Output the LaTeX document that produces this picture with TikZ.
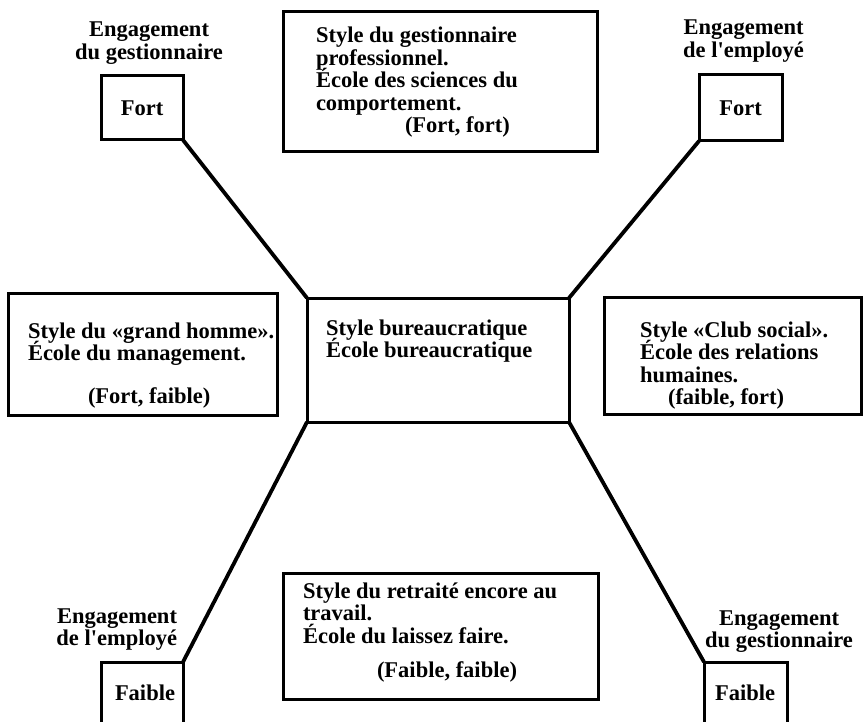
\documentclass[tikz,border=0pt]{standalone}
\usepackage{fontspec}
\setmainfont{Liberation Serif}
% multi-line blocks whose baseline is the baseline of their first line
\newcommand\stackl[1]{\vtop{\baselineskip=22.5pt\lineskiplimit=-50pt\relax\halign{##\hfil\cr#1\crcr}}}
\newcommand\stackc[1]{\vtop{\baselineskip=22.5pt\lineskiplimit=-50pt\relax\halign{\hfil##\hfil\cr#1\crcr}}}
\newcommand\stackr[1]{\vtop{\baselineskip=22.5pt\lineskiplimit=-50pt\relax\halign{\hfil##\cr#1\crcr}}}
\begin{document}
\begin{tikzpicture}[x=1pt,y=-1pt,
  box/.style={draw, line width=3pt, inner sep=0pt, outer sep=0pt,
              font=\bfseries\fontsize{22.5}{22.5}\selectfont},
  link/.style={line width=3.8pt},
  txt/.style={inner sep=0pt, outer sep=0pt,
              font=\bfseries\fontsize{22.5}{22.5}\selectfont},
]
\useasboundingbox (0,0) rectangle (864,722);
\clip (0,0) rectangle (864,722);

% boxes
\node[box, minimum width=82pt,  minimum height=64pt]  (tl) at (142,108)   {Fort};
\node[box, minimum width=314pt, minimum height=140pt] (tc) at (440,82)    {};
\node[box, minimum width=83pt,  minimum height=66pt]  (tr) at (740.5,108) {Fort};
\node[box, minimum width=269pt, minimum height=122pt] (ml) at (142.5,354) {};
\node[box, minimum width=262pt, minimum height=124pt] (mc) at (438,360)   {};
\node[box, minimum width=257pt, minimum height=117pt] (mr) at (732.5,355.5) {};
\node[box, minimum width=315pt, minimum height=126pt] (bc) at (440.5,636) {};
\node[box, minimum width=82pt,  minimum height=78pt]  (bl) at (142,701)   {};
\node[box, minimum width=83pt,  minimum height=78pt]  (br) at (745.5,701) {};

% connectors to the central box
\draw[link] (tl.south east) -- (mc.north west);
\draw[link] (tr.south west) -- (mc.north east);
\draw[link] (bl.north east) -- (mc.south west);
\draw[link] (br.north west) -- (mc.south east);

% axis labels
\node[txt, anchor=base] (tlLab) at (149,37) {\stackc{Engagement\cr du gestionnaire}};
\node[txt, anchor=base] (trLab) at (743.5,35) {\stackc{Engagement\cr de l\textquotesingle employé}};
\node[txt, anchor=base east] (blLab) at (177,623) {\stackr{Engagement\cr de l\textquotesingle employé}};
\node[txt, anchor=base] (brLab) at (779,625) {\stackc{Engagement\cr du gestionnaire}};
\node[txt, anchor=base west] (blVal) at (115,700) {Faible};
\node[txt, anchor=base west] (brVal) at (715,700) {Faible};

% box contents
\node[txt, anchor=base west] (tcText) at (316,43)
  {\stackl{Style du gestionnaire\cr professionnel.\cr École des sciences du\cr comportement.}};
\node[txt, anchor=base west] (tcPair) at (405,133) {(Fort, fort)};

\node[txt, anchor=base west] (mlText) at (28,338)
  {\stackl{Style du «grand homme».\cr École du management.}};
\node[txt, anchor=base west] (mlPair) at (88,403) {(Fort, faible)};

\node[txt, anchor=base west] (mcText) at (326,335)
  {\stackl{Style bureaucratique\cr École bureaucratique}};

\node[txt, anchor=base west] (mrText) at (640,337)
  {\stackl{Style «Club social».\cr École des relations\cr humaines.}};
\node[txt, anchor=base west] (mrPair) at (668,404) {(faible, fort)};

\node[txt, anchor=base west] (bcText) at (303,598)
  {\stackl{Style du retraité encore au\cr travail.\cr École du laissez faire.}};
\node[txt, anchor=base west] (bcPair) at (377,677) {(Faible, faible)};
\end{tikzpicture}
\end{document}
